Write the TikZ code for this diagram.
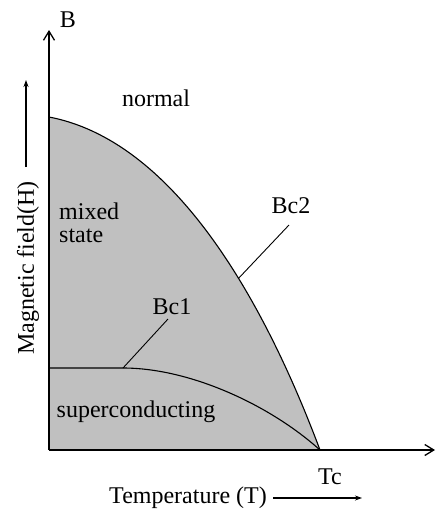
\documentclass[tikz,border=0pt]{standalone}
\usepackage{fontspec}
\setmainfont{Liberation Serif}
\usetikzlibrary{arrows.meta}
\definecolor{regiongray}{RGB}{192,192,192}
\tikzset{
  lbl/.style={inner sep=0pt, font=\fontsize{24}{26}\selectfont},
  axis/.style={line width=1.3pt, -{Straight Barb[length=9pt,width=11pt]}},
  curve/.style={line width=1.1pt},
  leader/.style={line width=0.9pt},
  sidearrow/.style={line width=1.1pt, -{Stealth[length=7pt,width=5pt]}}
}
\begin{document}
\begin{tikzpicture}[x=1pt,y=-1pt]
\useasboundingbox (0,0) rectangle (436,515);
\coordinate (O) at (49,450);
\coordinate (Ytop) at (49,30);
\coordinate (Xend) at (435,450);
\coordinate (B0) at (49,117);
\coordinate (Tc) at (320,450);
\coordinate (H1) at (49,368);
\coordinate (K1) at (123,368);
% shaded region
\fill[regiongray] (O) -- (B0) .. controls (170,140) and (260,290) .. (Tc) -- cycle;
% Bc2 curve
\draw[curve] (B0) .. controls (170,140) and (260,290) .. coordinate[pos=0.62] (P2) (Tc);
% Bc1 curve
\draw[curve] (H1) -- (K1) .. controls (190,368) and (270,405) .. (Tc);
% axes
\draw[axis] (O) -- (Ytop);
\draw[axis] (O) -- (Xend);
% labels
\node[lbl] (B) at (68,20) {B};
\node[lbl] (normal) at (156,98) {normal};
\node[lbl, align=left, anchor=north west] (mixed) at (59,203) {mixed\\[-3pt]state};
\node[lbl] (bc1) at (172,307) {Bc1};
\node[lbl] (bc2) at (291,206) {Bc2};
\node[lbl] (sc) at (136,412) {superconducting};
\node[lbl] (tc) at (330,477) {Tc};
\node[lbl, anchor=east] (temp) at (267,498) {Temperature (T)};
\node[lbl, rotate=90] (mag) at (28,268) {Magnetic field(H)};
\coordinate (TA) at (273,498);
\coordinate (TB) at (362,498);
\coordinate (MA) at (26,167);
\coordinate (MB) at (26,80);
\draw[sidearrow] (TA) -- (TB);
\draw[sidearrow] (MA) -- (MB);
% leader lines
\coordinate (L1) at (168,319);
\coordinate (L2) at (289,225);
\draw[leader] (K1) -- (L1);
\draw[leader] (P2) -- (L2);
\end{tikzpicture}
\end{document}
